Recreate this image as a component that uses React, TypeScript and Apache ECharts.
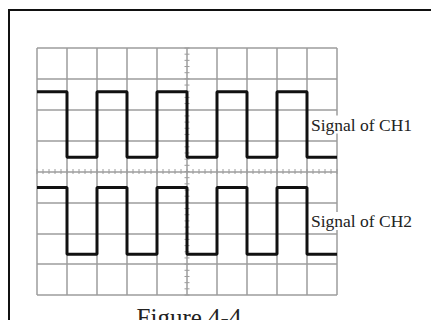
import React, { useEffect, useRef } from "react";
import * as echarts from "echarts";

// Levels per horizontal division (divisions 0..9), in vertical divisions from centre
const ch1Levels = [2.58, 0.46, 2.58, 0.46, 2.58, 0.46, 2.58, 0.46, 2.58, 0.46];
const ch2Levels = [-0.52, -2.68, -0.52, -2.68, -0.52, -2.68, -0.52, -2.68, -0.52, -2.68];
const seriesNames = ["Signal of CH1", "Signal of CH2"];
const caption = "Figure 4-4";

const X_MIN = 0;
const X_MAX = 10;
const Y_MIN = -4;
const Y_MAX = 4;
const X_CENTER = 5;
const Y_CENTER = 0;

function toSteps(levels: number[]) {
  const pts = levels.map((v, i) => [i, v]);
  pts.push([levels.length, levels[levels.length - 1]]);
  return pts;
}

export default function App() {
  const ref = useRef<HTMLDivElement>(null);
  useEffect(() => {
    if (!ref.current) return;
    const chart = echarts.init(ref.current, null, { renderer: "svg" });

    // decorative crosshair minor ticks (5 per division) on the centre lines
    const tickData: number[][] = [];
    for (let k = 0; k <= (X_MAX - X_MIN) * 5; k++) tickData.push([X_MIN + k * 0.2, Y_CENTER, 0]);
    for (let k = 0; k <= (Y_MAX - Y_MIN) * 5; k++) tickData.push([X_CENTER, Y_MIN + k * 0.2, 1]);

    const gridColor = "#9c9c9c";
    chart.setOption({
      animation: false,
      backgroundColor: "#ffffff",
      grid: { left: 37, top: 48, right: 94, bottom: 25, show: false },
      xAxis: {
        type: "value",
        min: X_MIN,
        max: X_MAX,
        interval: 1,
        axisLine: { show: false },
        axisTick: { show: false },
        axisLabel: { show: false },
        splitLine: { show: true, lineStyle: { color: gridColor, width: 1.5 } },
      },
      yAxis: {
        type: "value",
        min: Y_MIN,
        max: Y_MAX,
        interval: 1,
        axisLine: { show: false },
        axisTick: { show: false },
        axisLabel: { show: false },
        splitLine: { show: true, lineStyle: { color: gridColor, width: 1.5 } },
      },
      series: [
        {
          type: "custom",
          data: tickData,
          silent: true,
          z: 1,
          renderItem: (params: any, api: any) => {
            const p = api.coord([api.value(0), api.value(1)]);
            const vertical = api.value(2) === 0;
            return {
              type: "line",
              shape: vertical
                ? { x1: p[0], y1: p[1] - 2.5, x2: p[0], y2: p[1] + 2.5 }
                : { x1: p[0] - 2.5, y1: p[1], x2: p[0] + 2.5, y2: p[1] },
              style: { stroke: gridColor, lineWidth: 1 },
            };
          },
        },
        {
          name: seriesNames[0],
          type: "line",
          step: "end",
          data: toSteps(ch1Levels),
          symbol: "none",
          z: 3,
          lineStyle: { color: "#111", width: 3 },
        },
        {
          name: seriesNames[1],
          type: "line",
          step: "end",
          data: toSteps(ch2Levels),
          symbol: "none",
          z: 3,
          lineStyle: { color: "#111", width: 3 },
        },
      ],
      graphic: [
        { type: "line", shape: { x1: 9, y1: 10, x2: 431, y2: 10 }, style: { stroke: "#111", lineWidth: 2 } },
        { type: "line", shape: { x1: 9, y1: 9, x2: 9, y2: 320 }, style: { stroke: "#111", lineWidth: 2 } },
        {
          type: "text",
          x: 311,
          y: 124.5,
          z: 10,
          style: {
            text: seriesNames[0],
            fill: "#222",
            font: '17.5px "Liberation Serif"',
            verticalAlign: "middle",
            align: "left",
            backgroundColor: "#fff",
          },
        },
        {
          type: "text",
          x: 311,
          y: 221,
          z: 10,
          style: {
            text: seriesNames[1],
            fill: "#222",
            font: '17.5px "Liberation Serif"',
            verticalAlign: "middle",
            align: "left",
            backgroundColor: "#fff",
          },
        },
        {
          type: "text",
          x: 189,
          y: 305,
          style: {
            text: caption,
            fill: "#222",
            font: '25px "Liberation Serif"',
            verticalAlign: "top",
            align: "center",
          },
        },
      ],
    });
    return () => chart.dispose();
  }, []);
  return (
    <div
      ref={ref}
      style={{ position: "fixed", left: 0, top: 0, width: 431, height: 320 }}
    />
  );
}
